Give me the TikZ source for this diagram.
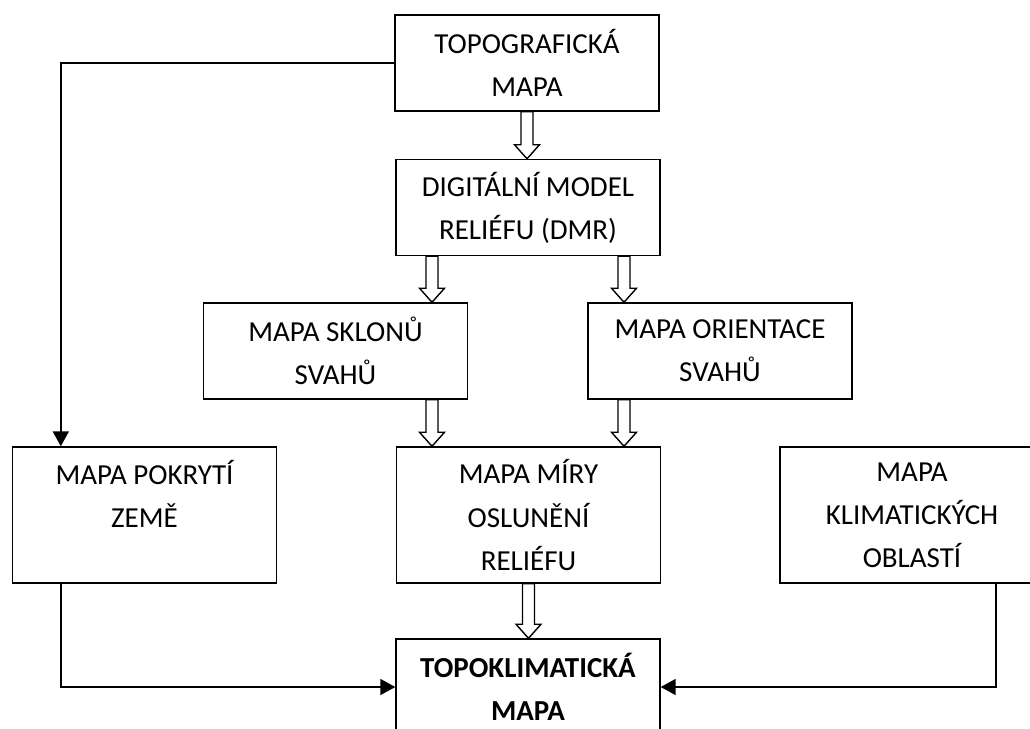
\documentclass[tikz,border=0pt]{standalone}
\usepackage{fontspec}
\setmainfont{Carlito}
\usepackage{tikz}
\usetikzlibrary{positioning}
\usetikzlibrary{calc}
\usetikzlibrary{arrows.meta}

\tikzset{
  mapbox/.style={draw=black, line width=0.8pt, align=center, inner sep=0pt,
    minimum width=5.28cm, minimum height=1.92cm,
    font=\fontsize{16.5pt}{24.5pt}\selectfont},
  tallbox/.style={mapbox, minimum height=2.72cm},
  link/.style={draw=black, line width=1.2pt, -{Triangle[length=8.5pt,width=9pt]}},
  hollow/.style={draw=black, line width=0.8pt, fill=white},
}

% hollow block arrow straight down from #1 to the height of #2
\newcommand{\hollowarrow}[2]{
\draw[hollow] let \p1=(#1), \p2=(#2) in
  (\x1-3.4pt,\y1) -- (\x1-3.4pt,\y2+8pt) -- (\x1-7.1pt,\y2+8pt) -- (\x1,\y2)
  -- (\x1+7.1pt,\y2+8pt) -- (\x1+3.4pt,\y2+8pt) -- (\x1+3.4pt,\y1) -- cycle;
}

\begin{document}
\begin{tikzpicture}[x=0.02cm, y=-0.02cm]

\useasboundingbox (0,0) rectangle (1030,729);

% nodes
{
\node[mapbox] (topo) at (527,63) {TOPOGRAFICKÁ\\MAPA};
\node[mapbox] (dmr) at (528,207.5) {DIGITÁLNÍ MODEL\\RELIÉFU (DMR)};

\node[mapbox] (sklon) at (335.5,351) {MAPA SKLONŮ\\SVAHŮ};
\node[mapbox] (orient) at (720,351) {MAPA ORIENTACE\\SVAHŮ};

\node[tallbox] (pokryti) at (144.5,515) {MAPA POKRYTÍ\\ZEMĚ\\\mbox{}};
\node[tallbox] (miry) at (528.5,515) {MAPA MÍRY\\OSLUNĚNÍ\\RELIÉFU};
\node[tallbox] (klima) at (912,515) {MAPA\\KLIMATICKÝCH\\OBLASTÍ};

\node[mapbox] (cil) at (528,687) {\textbf{TOPOKLIMATICKÁ}\\\textbf{MAPA}};
}

% columns of the arrows
\coordinate (colL) at ($(dmr.south)+(-96,0)$);
\coordinate (colR) at ($(dmr.south)+(96,0)$);
\coordinate (pokrytiCol) at ($(pokryti.north west)+(49,0)$);
\coordinate (klimaCol) at ($(klima.south west)+(217,0)$);

% hollow arrows
\hollowarrow{topo.south}{dmr.north}
\hollowarrow{colL}{sklon.north}
\hollowarrow{colR}{orient.north}
\hollowarrow{sklon.south -| colL}{miry.north}
\hollowarrow{orient.south -| colR}{miry.north}
\hollowarrow{miry.south}{cil.north}

% black lines
\draw[link] (topo.west) -| (pokrytiCol);
\draw[link] (pokryti.south -| pokrytiCol) |- (cil.west);
\draw[link] (klima.south -| klimaCol) |- (cil.east);

\end{tikzpicture}
\end{document}
